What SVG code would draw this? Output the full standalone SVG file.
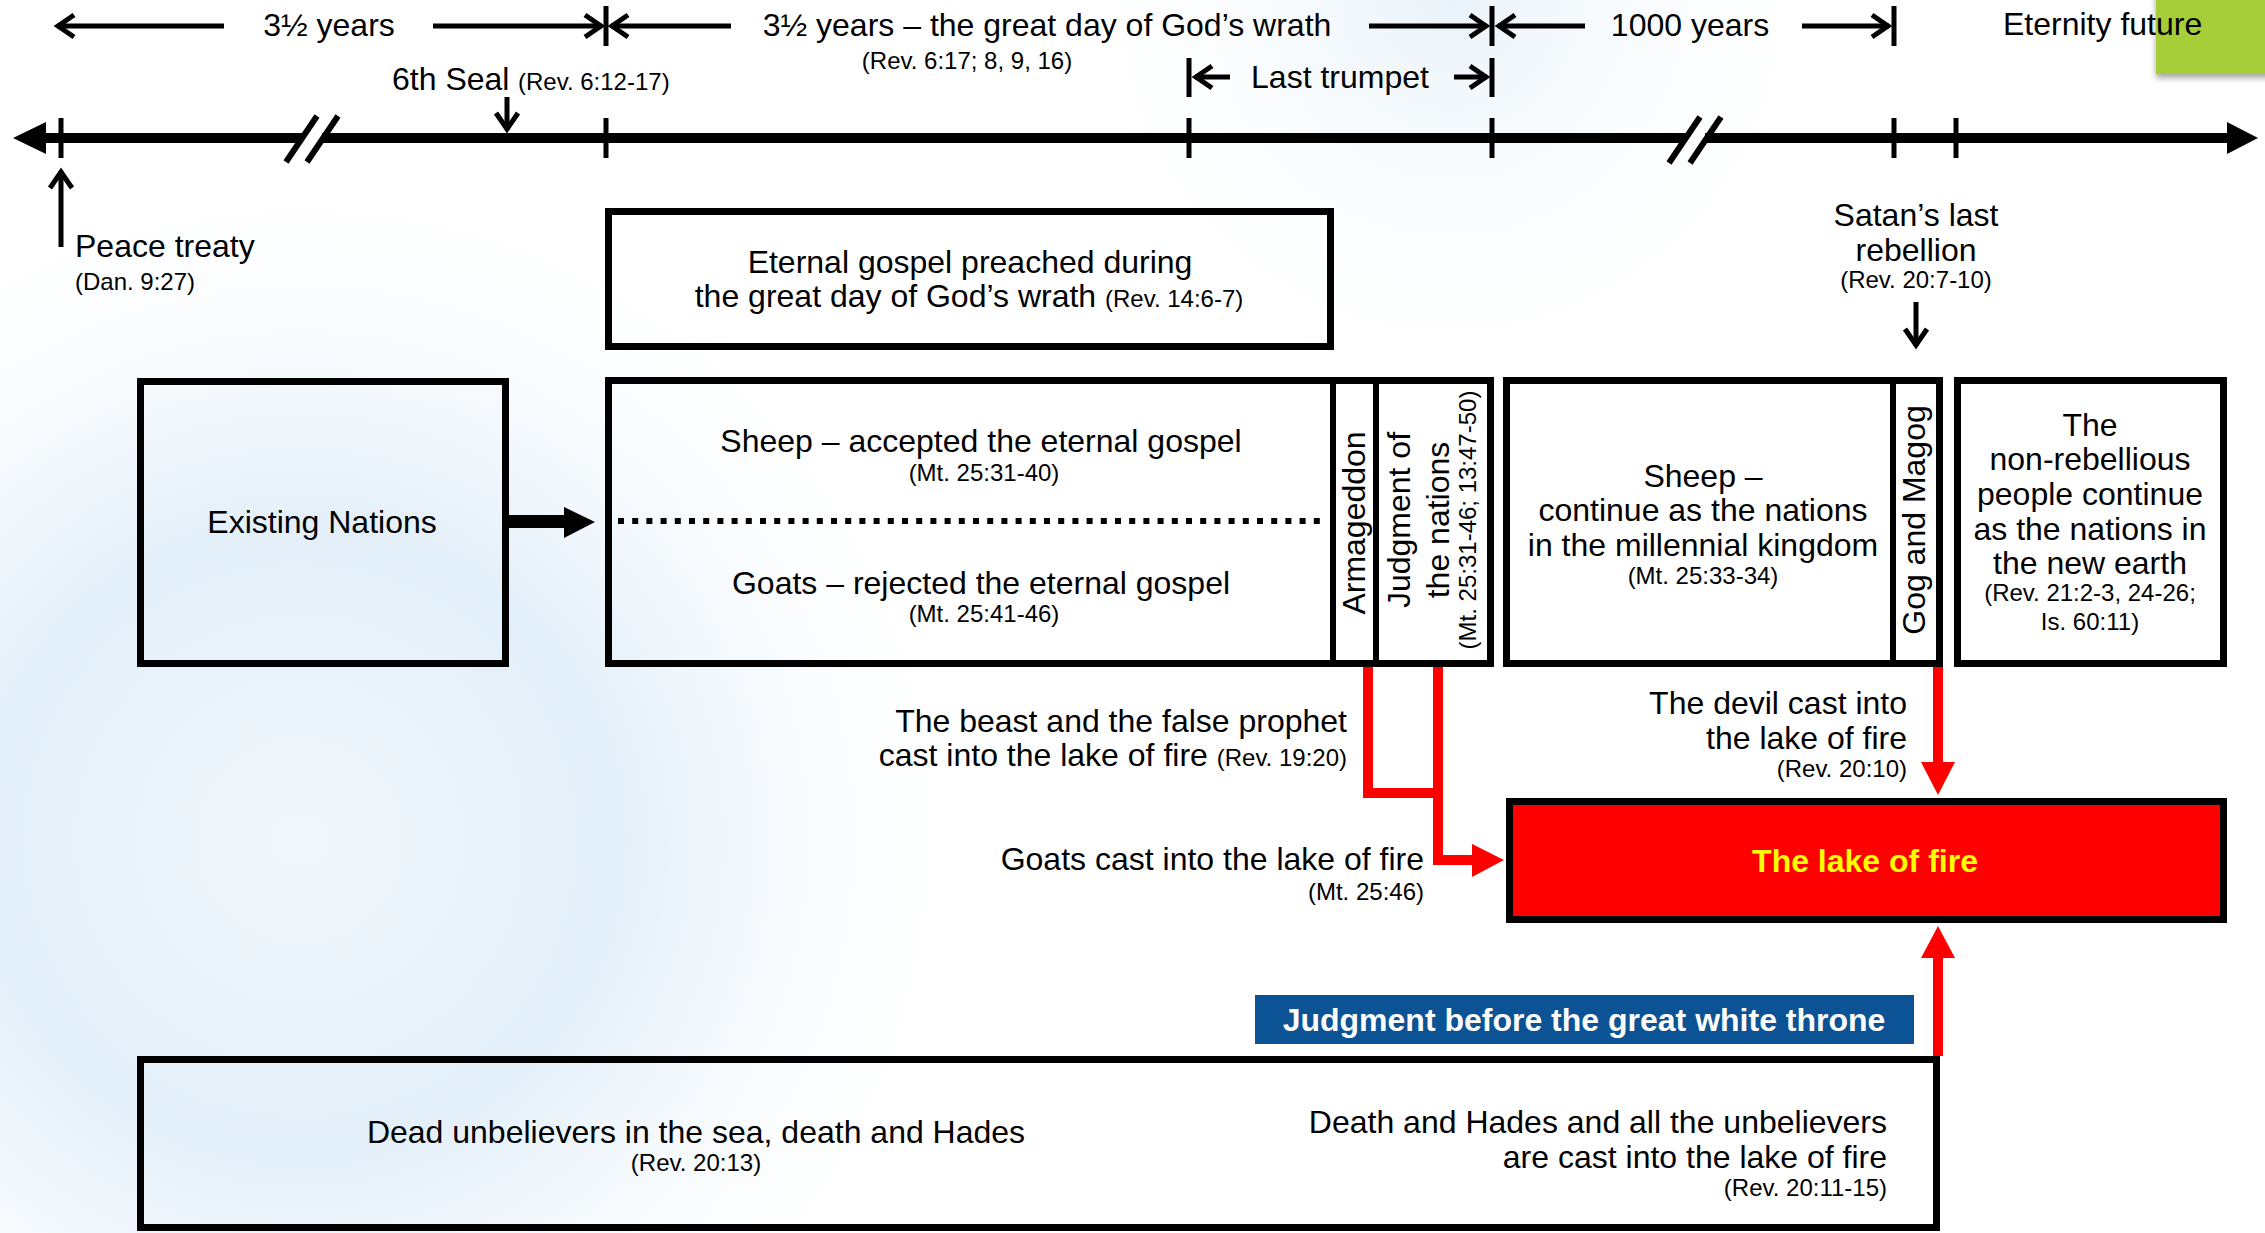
<svg xmlns="http://www.w3.org/2000/svg" width="2265" height="1233" viewBox="0 0 2265 1233">
<defs>
<style>
.t{font-family:"Liberation Sans",Arial,sans-serif;font-size:32px;fill:#000}
.r{font-size:24px}
.m{text-anchor:middle}
.e{text-anchor:end}
.b{font-weight:bold}
.box{fill:none;stroke:#000;stroke-width:7}
.ln{stroke:#000;stroke-width:5;fill:none}
.tk{stroke:#000;stroke-width:5}
.red{fill:none;stroke:#f00;stroke-width:10}
</style>
<marker id="ch" markerUnits="userSpaceOnUse" markerWidth="40" markerHeight="40" refX="0" refY="0" orient="auto" overflow="visible">
<path d="M-17,-11 L-1,0 L-17,11" fill="none" stroke="#000" stroke-width="5"/>
</marker>
<radialGradient id="bg1" cx="300" cy="840" r="700" gradientUnits="userSpaceOnUse">
<stop offset="0" stop-color="#f2f8fc"/>
<stop offset="0.45" stop-color="#e3eff9"/>
<stop offset="1" stop-color="#ffffff" stop-opacity="0"/>
</radialGradient>
<radialGradient id="bg2" cx="1450" cy="0" r="420" gradientUnits="userSpaceOnUse">
<stop offset="0" stop-color="#eaf3fa"/>
<stop offset="1" stop-color="#ffffff" stop-opacity="0"/>
</radialGradient>
<filter id="sh" x="-20%" y="-20%" width="140%" height="160%">
<feDropShadow dx="0" dy="4" stdDeviation="3" flood-color="#000" flood-opacity="0.35"/>
</filter>
</defs>
<rect width="2265" height="1233" fill="#fff"/>
<rect width="2265" height="1233" fill="url(#bg1)"/>
<rect width="2265" height="1233" fill="url(#bg2)"/>
<rect id="green-corner" x="2156" y="-10" width="120" height="84" fill="#a6ce39" filter="url(#sh)"/>

<g id="timeline">
<line x1="46" y1="138" x2="303" y2="138" stroke="#000" stroke-width="10"/>
<line x1="322" y1="138" x2="1686" y2="138" stroke="#000" stroke-width="10"/>
<line x1="1705" y1="138" x2="2228" y2="138" stroke="#000" stroke-width="10"/>
<polygon points="13,138 46,122 46,154"/>
<polygon points="2258,138 2227,122 2227,154"/>
<line x1="286" y1="162" x2="317" y2="116" stroke="#000" stroke-width="6"/>
<line x1="307" y1="162" x2="338" y2="116" stroke="#000" stroke-width="6"/>
<line x1="1669" y1="163" x2="1700" y2="117" stroke="#000" stroke-width="6"/>
<line x1="1690" y1="163" x2="1721" y2="117" stroke="#000" stroke-width="6"/>
<line class="tk" x1="61" y1="118" x2="61" y2="158"/>
<line class="tk" x1="606" y1="118" x2="606" y2="158"/>
<line class="tk" x1="1189" y1="118" x2="1189" y2="158"/>
<line class="tk" x1="1492" y1="118" x2="1492" y2="158"/>
<line class="tk" x1="1894" y1="118" x2="1894" y2="158"/>
<line class="tk" x1="1956" y1="118" x2="1956" y2="158"/>
</g>

<g id="periods">
<line class="ln" x1="224" y1="26" x2="57" y2="26" marker-end="url(#ch)"/>
<line class="ln" x1="433" y1="26" x2="602" y2="26" marker-end="url(#ch)"/>
<line class="tk" x1="606" y1="6" x2="606" y2="46"/>
<line class="ln" x1="731" y1="26" x2="611" y2="26" marker-end="url(#ch)"/>
<line class="ln" x1="1369" y1="26" x2="1487" y2="26" marker-end="url(#ch)"/>
<line class="tk" x1="1492" y1="6" x2="1492" y2="46"/>
<line class="ln" x1="1585" y1="26" x2="1498" y2="26" marker-end="url(#ch)"/>
<line class="ln" x1="1802" y1="26" x2="1889" y2="26" marker-end="url(#ch)"/>
<line class="tk" x1="1894" y1="6" x2="1894" y2="46"/>
<line class="tk" x1="1189" y1="58" x2="1189" y2="97"/>
<line class="ln" x1="1230" y1="77" x2="1195" y2="77" marker-end="url(#ch)"/>
<line class="ln" x1="1454" y1="77" x2="1487" y2="77" marker-end="url(#ch)"/>
<line class="tk" x1="1492" y1="58" x2="1492" y2="97"/>
<text class="t m" x="329" y="36">3½ years</text>
<text class="t m" x="1047" y="36">3½ years – the great day of God’s wrath</text>
<text class="t r m" x="967" y="69">(Rev. 6:17; 8, 9, 16)</text>
<text class="t m" x="1690" y="36">1000 years</text>
<text class="t" x="2003" y="35">Eternity future</text>
<text class="t m" x="1340" y="88">Last trumpet</text>
</g>

<g id="sixth-seal">
<text class="t" x="392" y="90">6th Seal<tspan class="r" x="518">(Rev. 6:12-17)</tspan></text>
<line class="ln" x1="507" y1="97" x2="507" y2="130" marker-end="url(#ch)"/>
</g>

<g id="peace-treaty">
<line class="ln" x1="61" y1="247" x2="61" y2="171" marker-end="url(#ch)"/>
<text class="t" x="75" y="257">Peace treaty</text>
<text class="t r" x="75" y="290">(Dan. 9:27)</text>
</g>

<g id="eternal-gospel">
<rect class="box" x="608.5" y="211.5" width="722" height="135"/>
<text class="t m" x="970" y="273">Eternal gospel preached during</text>
<text class="t m" x="969" y="307">the great day of God’s wrath <tspan class="r">(Rev. 14:6-7)</tspan></text>
</g>

<g id="existing-nations">
<rect class="box" x="140.5" y="381.5" width="365" height="282"/>
<text class="t m" x="322" y="533">Existing Nations</text>
</g>

<g id="sheep-goats">
<rect class="box" x="608.5" y="380.5" width="882" height="283"/>
<line x1="1333" y1="380" x2="1333" y2="664" stroke="#000" stroke-width="6"/>
<line x1="1376" y1="380" x2="1376" y2="664" stroke="#000" stroke-width="6"/>
<line x1="618" y1="521" x2="1322" y2="521" stroke="#000" stroke-width="6" stroke-dasharray="6 8.2"/>
<text class="t m" x="981" y="452">Sheep – accepted the eternal gospel</text>
<text class="t r m" x="984" y="481">(Mt. 25:31-40)</text>
<text class="t m" x="981" y="594">Goats – rejected the eternal gospel</text>
<text class="t r m" x="984" y="622">(Mt. 25:41-46)</text>
</g>

<g id="armageddon">
<text class="t m" transform="translate(1365,523) rotate(-90)">Armageddon</text>
</g>

<g id="judgment-nations">
<text class="t m" transform="translate(1410,520) rotate(-90)">Judgment of</text>
<text class="t m" transform="translate(1449,520) rotate(-90)">the nations</text>
<text class="t r m" transform="translate(1476,520) rotate(-90)">(Mt. 25:31-46; 13:47-50)</text>
</g>

<g id="millennial">
<rect class="box" x="1506.5" y="380.5" width="433" height="283"/>
<line x1="1893" y1="380" x2="1893" y2="664" stroke="#000" stroke-width="6"/>
<text class="t m" x="1703" y="487">Sheep –</text>
<text class="t m" x="1703" y="521">continue as the nations</text>
<text class="t m" x="1703" y="556">in the millennial kingdom</text>
<text class="t r m" x="1703" y="584">(Mt. 25:33-34)</text>
</g>

<g id="gog-magog">
<text class="t m" transform="translate(1925,520) rotate(-90)">Gog and Magog</text>
</g>

<g id="new-earth">
<rect class="box" x="1957.5" y="380.5" width="266" height="283"/>
<text class="t m" x="2090" y="436">The</text>
<text class="t m" x="2090" y="470">non-rebellious</text>
<text class="t m" x="2090" y="505">people continue</text>
<text class="t m" x="2090" y="540">as the nations in</text>
<text class="t m" x="2090" y="574">the new earth</text>
<text class="t r m" x="2090" y="601">(Rev. 21:2-3, 24-26;</text>
<text class="t r m" x="2090" y="630">Is. 60:11)</text>
</g>

<g id="satan-rebellion">
<text class="t m" x="1916" y="226">Satan’s last</text>
<text class="t m" x="1916" y="261">rebellion</text>
<text class="t r m" x="1916" y="288">(Rev. 20:7-10)</text>
<line class="ln" x1="1916" y1="302" x2="1916" y2="346" marker-end="url(#ch)"/>
</g>

<g id="lake-of-fire">
<rect x="1509.5" y="801.5" width="714" height="118" fill="#f00" stroke="#000" stroke-width="7"/>
<text class="t b m" x="1865" y="872" style="fill:#ff0">The lake of fire</text>
</g>

<g id="banner">
<rect x="1255" y="995" width="659" height="49" fill="#0b5394"/>
<text class="t b m" x="1584" y="1031" style="fill:#fff">Judgment before the great white throne</text>
</g>

<g id="dead-unbelievers">
<rect class="box" x="140.5" y="1059.5" width="1796" height="168"/>
<text class="t m" x="696" y="1143">Dead unbelievers in the sea, death and Hades</text>
<text class="t r m" x="696" y="1171">(Rev. 20:13)</text>
<text class="t e" x="1887" y="1133">Death and Hades and all the unbelievers</text>
<text class="t e" x="1887" y="1168">are cast into the lake of fire</text>
<text class="t r e" x="1887" y="1196">(Rev. 20:11-15)</text>
</g>

<g id="labels">
<text class="t e" x="1347" y="732">The beast and the false prophet</text>
<text class="t e" x="1347" y="766">cast into the lake of fire <tspan class="r">(Rev. 19:20)</tspan></text>
<text class="t e" x="1424" y="870">Goats cast into the lake of fire</text>
<text class="t r e" x="1424" y="900">(Mt. 25:46)</text>
<text class="t e" x="1907" y="714">The devil cast into</text>
<text class="t e" x="1907" y="749">the lake of fire</text>
<text class="t r e" x="1907" y="777">(Rev. 20:10)</text>
</g>

<g id="connectors">
<rect x="509" y="515" width="56" height="13"/>
<polygon points="564,507 595,522 564,538"/>
<path class="red" d="M1368,667 V793 H1443"/>
<path class="red" d="M1438,667 V860 H1476"/>
<polygon points="1472,844 1504,860 1472,877" fill="#f00"/>
<path class="red" d="M1938,667 V764"/>
<polygon points="1921,762 1938,795 1955,762" fill="#f00"/>
<path class="red" d="M1938,1056 V956"/>
<polygon points="1921,958 1938,926 1955,958" fill="#f00"/>
</g>
</svg>
